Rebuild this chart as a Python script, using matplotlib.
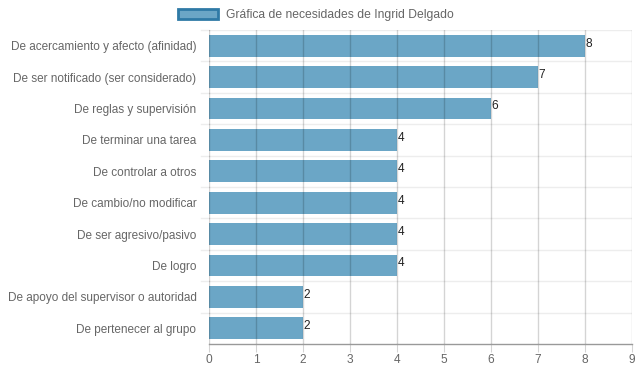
import matplotlib.pyplot as plt
import numpy as np

plt.rcParams['font.family'] = ['Liberation Sans', 'DejaVu Sans']

categories = [
    'De acercamiento y afecto (afinidad)',
    'De ser notificado (ser considerado)',
    'De reglas y supervisión',
    'De terminar una tarea',
    'De controlar a otros',
    'De cambio/no modificar',
    'De ser agresivo/pasivo',
    'De logro',
    'De apoyo del supervisor o autoridad',
    'De pertenecer al grupo',
]
values = [8, 7, 6, 4, 4, 4, 4, 4, 2, 2]
x_ticks = list(range(0, 10))
legend_label = 'Gráfica de necesidades de Ingrid Delgado'

W, H = 639, 372
fig = plt.figure(figsize=(W / 100, H / 100), dpi=100)
ax = fig.add_axes([209 / W, 1 - 344 / H, (632 - 209) / W, (344 - 30) / H])

y = np.arange(len(categories))
ax.barh(y, values, height=0.7, color='#6ba6c6', zorder=2)
ax.set_ylim(len(categories) - 0.5, -0.5)
ax.set_xlim(0, 9)

# vertical grid drawn over the bars, like the original
for xv in x_ticks:
    ax.axvline(xv, color='black', alpha=0.17, lw=1, zorder=3)
# horizontal grid at category borders
for yb in np.arange(-0.5, len(categories) - 0.5, 1):
    ax.axhline(yb, color='black', alpha=0.07, lw=1, zorder=1)
    ax.plot([-0.18, 0], [yb, yb], color='black', alpha=0.07, lw=1,
            clip_on=False, zorder=1)

ax.set_xticks(x_ticks)
ax.set_yticks(y)
ax.set_yticklabels(categories)
ax.tick_params(axis='x', length=6, color=(0, 0, 0, 0.17), labelcolor='#666666',
               labelsize=8.6, pad=1)
ax.tick_params(axis='y', length=0, labelcolor='#666666', labelsize=8.5, pad=9)

for s in ['top', 'right', 'left']:
    ax.spines[s].set_visible(False)
ax.spines['bottom'].set_color('#999999')
ax.spines['bottom'].set_linewidth(1)

for yi, v in zip(y, values):
    ax.text(v + 0.01, yi - 0.07, str(v), fontsize=8.6, color='#222222',
            va='center', ha='left', zorder=4)

fig.legend([plt.Rectangle((0, 0), 1, 1, facecolor='#6ba6c6',
                          edgecolor='#2f7aa6', lw=2)],
           [legend_label], loc='center', bbox_to_anchor=(316 / W, 1 - 15 / H),
           frameon=False, fontsize=8.7, handlelength=3.3, handleheight=0.9,
           handletextpad=0.7, labelcolor='#666666')

fig.savefig('out.png', dpi=100)
